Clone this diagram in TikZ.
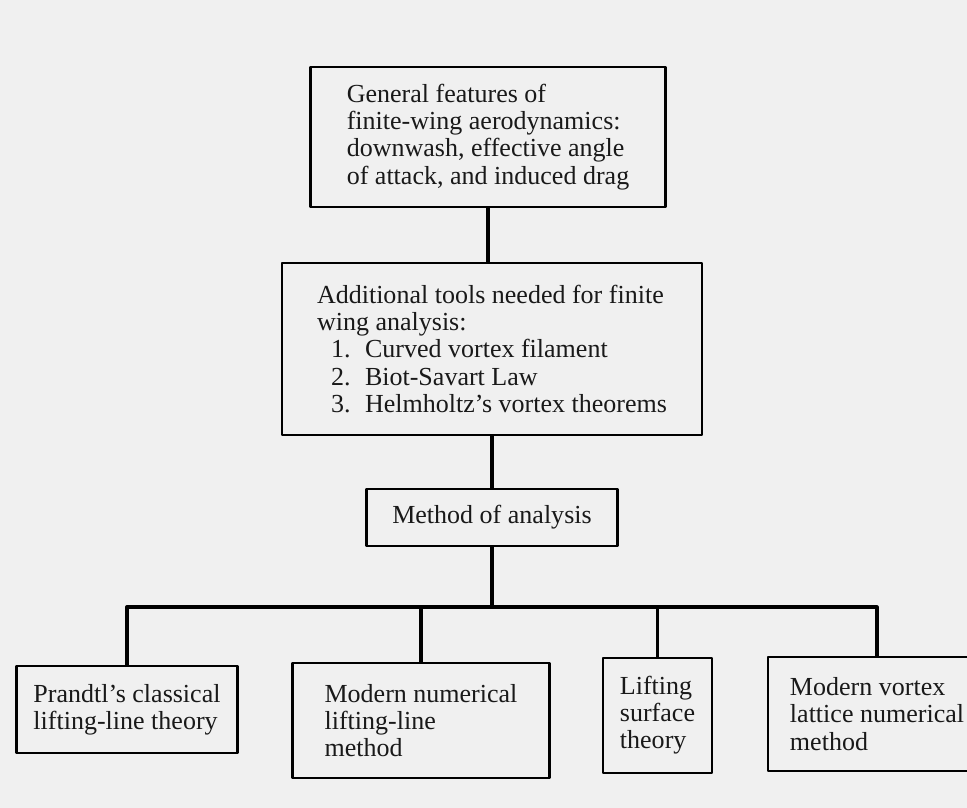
\documentclass[tikz,border=0pt]{standalone}
\usepackage{fontspec}
\setmainfont{Liberation Serif}
\begin{document}
\begin{tikzpicture}[x=0.025cm, y=-0.025cm, line cap=round, line join=round,
    font=\fontsize{18.5}{19.3}\selectfont]
    \tikzset{blk/.style={draw, line width=2pt, align=left, inner sep=4pt, text=black!90},
             link/.style={line width=2.3pt}}
    \useasboundingbox[fill=black!6] (0,0) rectangle (967,808);
    \clip (0,0) rectangle (967,808);
    % top of the chart
    \node[blk, minimum width=8.875cm, minimum height=3.5cm] (general) at (488,137)
        {General features of\\finite-wing aerodynamics:\\downwash, effective angle\\of attack, and induced drag};
    \node[blk, minimum width=10.5cm, minimum height=4.3cm] (tools) at (492,349)
        {Additional tools needed for finite\\wing analysis:\\
         \hspace*{0.35cm}\makebox[0.85cm][l]{1.}Curved vortex filament\\
         \hspace*{0.35cm}\makebox[0.85cm][l]{2.}Biot-Savart Law\\
         \hspace*{0.35cm}\makebox[0.85cm][l]{3.}Helmholtz's vortex theorems};
    \node[blk, minimum width=6.275cm, minimum height=1.425cm] (method) at (492,517.5) {Method of analysis};
    % the four methods
    \node[blk, minimum width=5.525cm, minimum height=2.175cm] (prandtl) at (127,709.5)
        {Prandtl's classical\\lifting-line theory};
    \node[blk, minimum width=6.425cm, minimum height=2.875cm] (numline) at (421,720.5)
        {Modern numerical\\lifting-line\\method};
    \node[blk, minimum width=2.725cm, minimum height=2.875cm] (surface) at (657.5,715.5)
        {Lifting\\surface\\theory};
    \node[blk, minimum width=5.45cm, minimum height=2.85cm] (lattice) at (877,714)
        {Modern vortex\\lattice numerical\\method};
    \coordinate (bus) at (492,607);
    \draw[link] (general.south) -- (general.south |- tools.north);
    \draw[link] (tools.south) -- (method.north);
    \draw[link] (method.south) -- (bus);
    \foreach \m in {prandtl, numline, surface, lattice}
        \draw[link] (bus) -| (\m.north);
\end{tikzpicture}
\end{document}
